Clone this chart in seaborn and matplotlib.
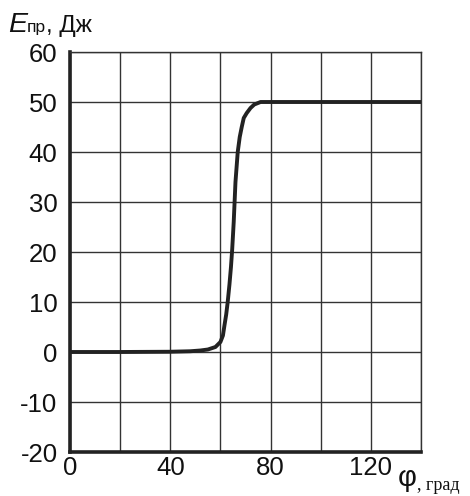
import numpy as np
import pandas as pd
import matplotlib
matplotlib.use("Agg")
import matplotlib.pyplot as plt
import seaborn as sns

phi = [0, 20, 40, 48, 52, 55, 58, 60, 61, 61.6, 62.3, 62.9, 63.6, 64.2, 64.7,
       65.3, 66, 66.9, 67.7, 68.5, 69.3, 70.5, 72, 73.5, 76, 80, 100, 140]
energy = [0, 0, 0.05, 0.15, 0.3, 0.5, 1, 2, 3.3, 5.3, 7.5, 10, 13.5, 17, 20.6,
          26, 34, 40, 43, 45, 46.8, 47.8, 48.8, 49.5, 50, 50, 50, 50]
x_ticks = [0, 40, 80, 120]
y_ticks = [-20, -10, 0, 10, 20, 30, 40, 50, 60]

sns.set_theme(style="white")
plt.rcParams['font.family'] = ['Liberation Sans', 'DejaVu Sans']
plt.rcParams['axes.unicode_minus'] = False

df = pd.DataFrame({"phi": phi, "E": energy})

fig = plt.figure(figsize=(4.7, 4.96), dpi=100)
ax = fig.add_axes([70/470, 1-452/496, (421-70)/470, (452-52)/496])

sns.lineplot(data=df, x="phi", y="E", ax=ax, color="#222222", linewidth=2.8,
             solid_joinstyle="round", solid_capstyle="round")

ax.set_xlim(0, 140)
ax.set_ylim(-20, 60)
ax.set_xticks(x_ticks)
ax.set_xticks(np.arange(0, 141, 20), minor=True)
ax.set_yticks(y_ticks)
ax.grid(True, which="both", color="#333333", linewidth=1.0)
ax.tick_params(axis="both", which="both", length=0, labelsize=18.5, colors="#111111")
ax.tick_params(axis="y", pad=9)
ax.tick_params(axis="x", pad=3)
ax.set_xlabel("")
ax.set_ylabel("")
for s in ["top", "right"]:
    ax.spines[s].set_color("#333333")
    ax.spines[s].set_linewidth(1.0)
for s in ["left", "bottom"]:
    ax.spines[s].set_color("#222222")
    ax.spines[s].set_linewidth(2.6)

# y label
fig.text(8/470, 1-32/496, "E", fontsize=20.5, style="italic", ha="left", va="baseline", color="#111111")
fig.text(27/470, 1-32/496, "пр", fontsize=12.5, ha="left", va="baseline", color="#111111")
fig.text(46/470, 1-32/496, ", Дж", fontsize=17.5, ha="left", va="baseline", color="#111111")
# x label
fig.text(398/470, 1-486/496, "φ", fontsize=21, ha="left", va="baseline", color="#111111")
fig.text(417/470, 1-490/496, ", град", fontsize=13, family=["Liberation Serif"], ha="left", va="baseline", color="#111111")

fig.savefig("out.png", dpi=100)
